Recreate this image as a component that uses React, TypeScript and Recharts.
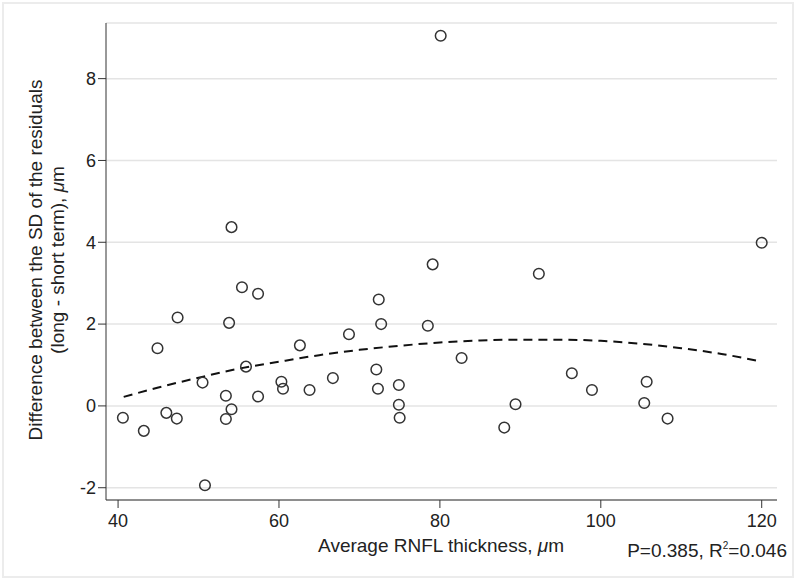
import React from 'react';
import { ComposedChart, Scatter, Line, XAxis, YAxis, CartesianGrid } from 'recharts';

// RNFL thickness (x) vs difference in SD of residuals (y)
const thickness = [
    40.6, 43.2, 44.9, 46.0, 47.4, 47.3, 50.5, 50.8, 53.4, 53.8, 53.4, 54.1, 54.1, 55.4, 57.4,
    55.9, 57.4, 60.3, 60.5, 62.6, 63.8, 66.7, 68.7, 72.4, 72.7, 72.1, 72.3, 74.9, 74.9, 75.0,
    78.5, 79.1, 80.1, 82.7, 88.0, 89.4, 92.3, 96.4, 98.9, 105.7, 105.4, 108.3, 120.0,
];
const sdDiff = [
    -0.29, -0.61, 1.41, -0.17, 2.16, -0.31, 0.57, -1.94, 0.25, 2.03, -0.32, -0.08, 4.37, 2.90, 2.74,
    0.96, 0.23, 0.59, 0.42, 1.48, 0.39, 0.68, 1.75, 2.60, 2.00, 0.89, 0.42, 0.51, 0.03, -0.29,
    1.96, 3.46, 9.05, 1.17, -0.53, 0.04, 3.23, 0.80, 0.39, 0.59, 0.07, -0.31, 3.99,
];

// quadratic fit line
const fitX = [40.7, 45, 50, 55, 60, 65, 70, 75, 80, 85, 90, 95, 100, 105, 110, 115, 120];
const fitY = [0.22, 0.45, 0.69, 0.91, 1.08, 1.24, 1.37, 1.47, 1.55, 1.60, 1.62, 1.62, 1.59, 1.52, 1.41, 1.27, 1.08];

const xTicks = [40, 60, 80, 100, 120];
const yTicks = [-2, 0, 2, 4, 6, 8];

const points = thickness.map((x, i) => ({ x, y: sdDiff[i] }));
const fit = fitX.map((x, i) => ({ x, y: fitY[i] }));

const FONT = '"Liberation Sans", Arial, Helvetica, sans-serif';
const INK = '#222';

const HollowDot = (props: any) => {
    const { cx, cy } = props;
    if (cx == null || cy == null) return null;
    return <circle cx={cx} cy={cy} r={5.3} fill="none" stroke="#333" strokeWidth={1.5} />;
};

const YLabel = () => (
    <g fontFamily={FONT} fontSize={19} fill={INK}>
        <text x={42} y={260} textAnchor="middle" transform="rotate(-90 42 260)">
            Difference between the SD of the residuals
        </text>
        <text x={64} y={260} textAnchor="middle" transform="rotate(-90 64 260)">
            (long - short term), <tspan fontStyle="italic">μ</tspan>m
        </text>
    </g>
);

const XLabel = () => (
    <g fontFamily={FONT} fontSize={19} fill={INK}>
        <text x={441} y={552} textAnchor="middle">
            Average RNFL thickness, <tspan fontStyle="italic">μ</tspan>m
        </text>
        <text x={787} y={557} textAnchor="end">
            P=0.385, R<tspan fontSize={10} dy={-8}>2</tspan><tspan dy={8}>=0.046</tspan>
        </text>
    </g>
);

const App: React.FC = () => {
    return (
        <div style={{ position: 'absolute', left: 0, top: 0, width: 800, height: 581, background: '#fff' }}>
            <div style={{ position: 'absolute', left: 2, top: 2, width: 792, height: 576, border: '2px solid #ececec', boxSizing: 'border-box' }} />
            <ComposedChart
                width={800}
                height={581}
                margin={{ top: 23, right: 23, bottom: 31, left: 0 }}
                style={{ position: 'absolute', left: 0, top: 0 }}
            >
                <CartesianGrid horizontal vertical={false} stroke="#e4e4e4" strokeWidth={1.5} />
                <XAxis
                    type="number"
                    dataKey="x"
                    domain={[38.5, 121.9]}
                    ticks={xTicks}
                    allowDataOverflow
                    height={50}
                    tickSize={8}
                    tickMargin={6}
                    stroke="#333"
                    tick={{ fill: INK, fontSize: 18, fontFamily: FONT }}
                    label={{ content: () => <XLabel /> }}
                />
                <YAxis
                    type="number"
                    dataKey="y"
                    domain={[-2.3, 9.36]}
                    ticks={yTicks}
                    allowDataOverflow
                    width={106}
                    tickSize={8}
                    tickMargin={2}
                    stroke="#333"
                    tick={{ fill: INK, fontSize: 18, fontFamily: FONT }}
                    label={{ content: () => <YLabel /> }}
                />
                <Line
                    data={fit}
                    dataKey="y"
                    type="monotone"
                    dot={false}
                    stroke="#111"
                    strokeWidth={2}
                    strokeDasharray="9 6"
                    isAnimationActive={false}
                />
                <Scatter data={points} shape={HollowDot} isAnimationActive={false} />
            </ComposedChart>
        </div>
    );
};

export default App;
